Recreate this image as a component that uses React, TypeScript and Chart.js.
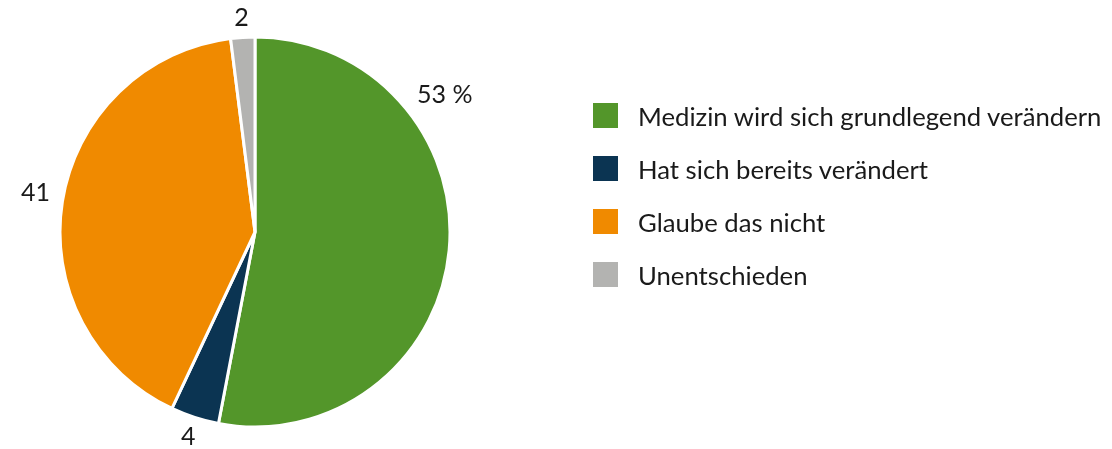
import React, { useEffect, useRef } from "react";
import { Chart, registerables } from "chart.js";

Chart.register(...registerables);

const categories = [
  "Medizin wird sich grundlegend verändern",
  "Hat sich bereits verändert",
  "Glaube das nicht",
  "Unentschieden",
];
const values = [53, 4, 41, 2];
const valueLabels = ["53 %", "4", "41", "2"];
const colors = ["#53962a", "#0b3452", "#f08a00", "#b3b3b1"];

// label placement within each slice: fraction along the arc, distance outside the rim
const labelFrac = [0.284, 0.5, 0.507, 0.5];
const labelGap = [39, 21, 28, 19];

const FONT = "Lato, 'Open Sans', sans-serif";
const TEXT = "#1a1a1a";

const labelPlugin = {
  id: "sliceLabels",
  afterDatasetsDraw(chart: any) {
    const ctx = chart.ctx;
    const meta = chart.getDatasetMeta(0);
    ctx.save();
    ctx.fillStyle = TEXT;
    ctx.font = `25px ${FONT}`;
    ctx.textAlign = "center";
    ctx.textBaseline = "middle";
    meta.data.forEach((arc: any, i: number) => {
      const { x, y, startAngle, endAngle, outerRadius } = arc.getProps(
        ["x", "y", "startAngle", "endAngle", "outerRadius"],
        true
      );
      const a = startAngle + labelFrac[i] * (endAngle - startAngle);
      const r = outerRadius + labelGap[i];
      ctx.fillText(valueLabels[i], x + Math.cos(a) * r, y + Math.sin(a) * r);
    });
    ctx.restore();
  },
};

export default function App() {
  const ref = useRef<HTMLCanvasElement | null>(null);

  useEffect(() => {
    if (!ref.current) return;
    const chart = new Chart(ref.current, {
      type: "pie",
      data: {
        labels: categories,
        datasets: [
          {
            data: values,
            backgroundColor: colors,
            borderColor: "#ffffff",
            borderWidth: 3,
          },
        ],
      },
      options: {
        responsive: false,
        animation: false,
        layout: { padding: { top: 35.5, bottom: 20.5, left: 58.5, right: 660.5 } },
        plugins: {
          legend: { display: false },
          tooltip: { enabled: false },
        },
      },
      plugins: [labelPlugin],
    });
    return () => chart.destroy();
  }, []);

  return (
    <div
      style={{
        position: "fixed",
        left: 0,
        top: 0,
        width: 1112,
        height: 449,
        background: "#ffffff",
        fontFamily: FONT,
      }}
    >
      <canvas ref={ref} width={1112} height={449} style={{ position: "absolute", left: 0, top: 0 }} />
      <div style={{ position: "absolute", left: 593, top: 89 }}>
        {categories.map((c, i) => (
          <div
            key={c}
            style={{
              display: "flex",
              alignItems: "center",
              height: 53,
              whiteSpace: "nowrap",
            }}
          >
            <span
              style={{
                display: "inline-block",
                width: 25,
                height: 25,
                background: colors[i],
                marginRight: 20,
                flexShrink: 0,
              }}
            />
            <span style={{ fontSize: 25.7, color: TEXT }}>{c}</span>
          </div>
        ))}
      </div>
    </div>
  );
}
